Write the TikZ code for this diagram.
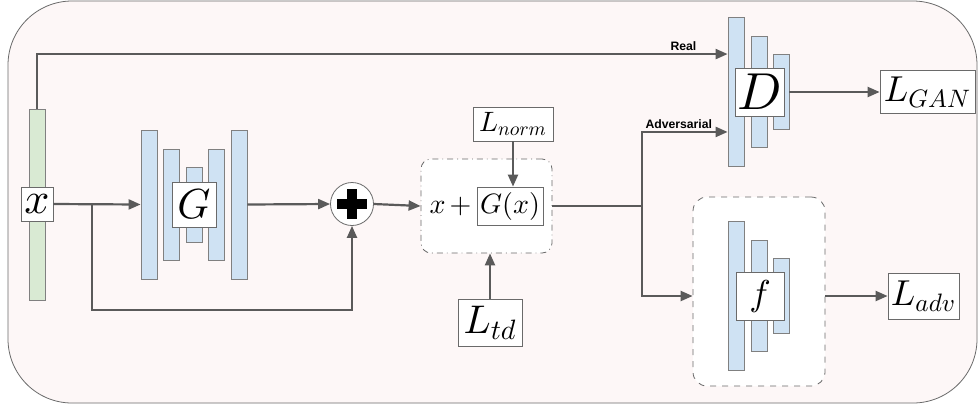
\documentclass[tikz,border=0pt]{standalone}
\usepackage{fontspec}
\newfontfamily\tagfont{Liberation Sans}
\usetikzlibrary{arrows.meta,calc}

% scalable math fonts
\DeclareFontShape{OML}{cmm}{m}{it}{<->cmmi10}{}
\DeclareFontShape{OT1}{cmr}{m}{n}{<->cmr10}{}
\DeclareFontShape{OMS}{cmsy}{m}{n}{<->cmsy10}{}

\definecolor{bgpink}{HTML}{FDF7F7}
\definecolor{barblue}{HTML}{CFE2F3}
\definecolor{bargreen}{HTML}{D9EAD3}
\definecolor{edgegray}{HTML}{808080}
\definecolor{boxgray}{HTML}{6A6A6A}
\definecolor{linegray}{HTML}{5A5A5A}

\tikzset{
  bar/.style={draw=edgegray, fill=barblue, minimum width=8pt, inner sep=0pt},
  lbox/.style={draw=boxgray, fill=white, inner sep=1pt},
  wire/.style={draw=linegray, line width=1.1pt},
  flow/.style={wire, -{Triangle[length=6pt,width=5pt]}},
  tag/.style={font=\tagfont\bfseries\fontsize{6.1}{7}\selectfont, inner sep=1pt, text=black},
  sz/.style={font=\fontsize{#1}{#1}\selectfont}
}

\begin{document}
\begin{tikzpicture}[x=0.5pt, y=-0.5pt]
  \useasboundingbox (0,0) rectangle (978,408);
  \draw[boxgray, fill=bgpink, rounded corners=32pt] (8,1) rectangle (977,403);

  % frames
  \node[draw=boxgray, fill=white, dash dot, rounded corners=5pt, minimum width=65.5pt, minimum height=47pt] (sumbox) at (486.5,206) {};
  \node[draw=boxgray, fill=white, dashed, rounded corners=7pt, minimum width=66pt, minimum height=94.5pt] (fbox) at (759,291.5) {};

  % input
  \node[bar, fill=bargreen, minimum height=95.5pt] (xbar) at (37,204.5) {};
  \node[lbox, sz=22, minimum width=16pt, minimum height=17pt] (xlbl) at (37,204) {$x$};

  % generator
  \foreach \i/\cx/\h in {1/149/74.5pt, 2/171.5/55.5pt, 3/194/37.5pt, 4/216.5/55.5pt, 5/239/74.5pt}
    \node[bar, minimum height=\h] (G\i) at (\cx,204.5) {};
  \node[lbox, sz=21, minimum width=22pt, minimum height=22.5pt] (Glbl) at (194,204.5) {$G$};

  % sum
  \node[circle, draw=boxgray, fill=white, minimum size=21.5pt, inner sep=0pt] (plus) at (352,204) {};
  \fill (plus.center) ++(-15,-5) rectangle ++(30,10);
  \fill (plus.center) ++(-5,-15) rectangle ++(10,30);
  \node[lbox, sz=14, minimum width=33pt, minimum height=19pt] (Gx) at (510,206) {$G(x)$};
  \node[sz=14, inner sep=0pt, anchor=east] (xadd) at ($(Gx.west)+(-1,0)$) {$\medmuskip=2.5mu x+{}$};
  \node[lbox, sz=14, minimum width=40pt, minimum height=17pt] (Lnorm) at (513,124) {$L_{norm}$};
  \node[lbox, sz=20, minimum width=32pt, minimum height=23.5pt] (Ltd) at (490,322.5) {$L_{td}$};

  % discriminator
  \foreach \i/\cx/\h in {1/736/74.5pt, 2/759/55.5pt, 3/781/37.5pt}
    \node[bar, minimum height=\h] (D\i) at (\cx,91.5) {};
  \node[lbox, sz=26, minimum width=24pt, minimum height=24pt] (Dlbl) at (760,92) {$D$};
  \node[lbox, sz=18, minimum width=47.5pt, minimum height=21.5pt] (LGAN) at (927.5,92) {$L_{GAN}$};

  % target model
  \foreach \i/\cx/\h in {1/736/74.5pt, 2/759/55.5pt, 3/781/37.5pt}
    \node[bar, minimum height=\h] (f\i) at (\cx,295.5) {};
  \node[lbox, sz=18, minimum width=24pt, minimum height=24pt] (flbl) at (760,296) {$f$};
  \node[lbox, sz=18, minimum width=35.5pt, minimum height=23pt] (Ladv) at (923.5,296) {$L_{adv}$};

  % connectors
  \coordinate (branch) at (92,204);
  \coordinate (split) at (642,206);
  \coordinate (inreal) at ($(D1.north west)!0.25!(D1.south west)$);
  \coordinate (inadv) at ($(D1.north west)!0.77!(D1.south west)$);

  \draw[flow] (xbar.north) |- node[tag, above, pos=0.968] {Real} (inreal);
  \draw[flow] (xlbl.east) -- (G1.west);
  \draw[flow] (branch) -- ++(0,106) -| (plus.south);
  \draw[flow] (G5.east) -- (plus.west);
  \draw[flow] (plus.east) -- (sumbox.west);
  \draw[flow] (Lnorm.south) -- (Lnorm.south |- Gx.north);
  \draw[flow] (Ltd.north) -- (Ltd.north |- sumbox.south);
  \draw[wire] (sumbox.east) -- (split);
  \draw[flow] (split) |- node[tag, above, pos=0.715] {Adversarial} (inadv);
  \draw[flow] (split) |- (fbox.west |- flbl.center);
  \draw[flow] (Dlbl.east -| D3.east) -- (LGAN.west);
  \draw[flow] (fbox.east |- flbl.center) -- (Ladv.west);
\end{tikzpicture}
\end{document}
